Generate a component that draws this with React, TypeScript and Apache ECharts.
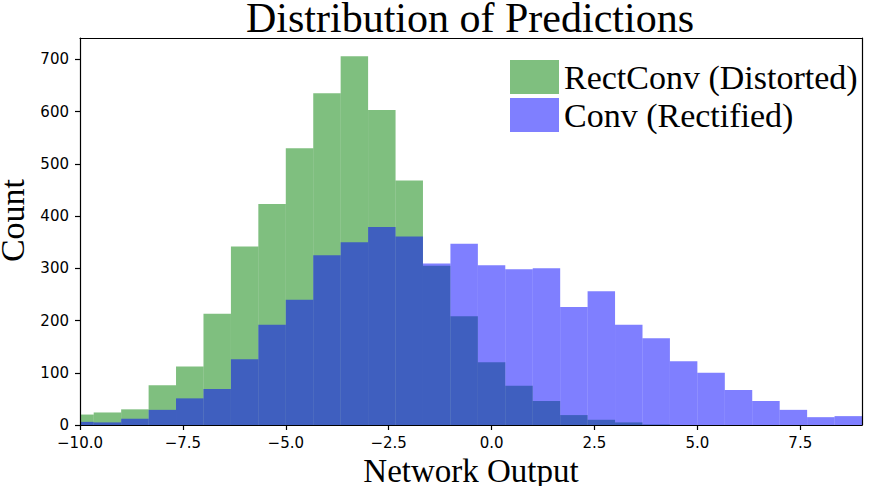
import React, { useEffect, useRef } from "react";
import * as echarts from "echarts";

// Histogram bin edges (shared by both series)
const binEdges = [
  -10.333, -9.667, -9.0, -8.333, -7.667, -7.0, -6.333, -5.667, -5.0, -4.333,
  -3.667, -3.0, -2.333, -1.667, -1.0, -0.333, 0.333, 1.0, 1.667, 2.333,
  3.0, 3.667, 4.333, 5.0, 5.667, 6.333, 7.0, 7.667, 8.333, 9.0,
];

const rectConvCounts = [
  20, 24, 30, 76, 112, 213, 342, 423, 530, 635, 706, 603, 468, 305, 208,
  120, 75, 46, 19, 10, 5, 1, 0, 0, 0, 0, 0, 0, 0,
];

const convCounts = [
  6, 5, 12, 29, 51, 69, 126, 192, 240, 325, 350, 379, 361, 309, 347,
  306, 298, 300, 226, 256, 192, 166, 122, 100, 67, 46, 29, 15, 17,
];

const xTicks = [-10, -7.5, -5, -2.5, 0, 2.5, 5, 7.5];
const yTicks = [0, 100, 200, 300, 400, 500, 600, 700];

const seriesNames = ["RectConv (Distorted)", "Conv (Rectified)"];
const seriesColors = ["rgba(0,128,0,0.5)", "rgba(0,0,255,0.5)"];

function toBins(counts: number[]) {
  return counts.map((c, i) => [binEdges[i], binEdges[i + 1], c]);
}

function makeRenderItem(color: string) {
  return (params: any, api: any) => {
    const x0 = api.value(0);
    const x1 = api.value(1);
    const v = api.value(2);
    const tl = api.coord([x0, v]);
    const br = api.coord([x1, 0]);
    const cs = params.coordSys;
    const left = Math.max(tl[0], cs.x);
    const right = Math.min(br[0], cs.x + cs.width);
    return {
      type: "rect",
      shape: { x: left, y: tl[1], width: Math.max(0, right - left), height: br[1] - tl[1] },
      style: { fill: color },
    };
  };
}

const fmtX = (v: number) => (v < 0 ? "\u2212" : "") + Math.abs(v).toFixed(1);

const tickFont = { fontFamily: "DejaVu Sans", fontSize: 15, color: "#000" };
const serif = "Liberation Serif";

export default function App() {
  const ref = useRef<HTMLDivElement>(null);
  useEffect(() => {
    const chart = echarts.init(ref.current!, null, { renderer: "svg" });
    const option: any = {
      animation: false,
      backgroundColor: "#fff",
      grid: { left: 80, right: 11, top: 38, bottom: 61, outerBoundsMode: "none", containLabel: false },
      graphic: [
        {
          type: "text",
          x: 470,
          y: 1,
          z: 100,
          style: {
            text: "Distribution of Predictions",
            font: `42px "${serif}"`,
            lineHeight: 34,
            fill: "#000",
            textAlign: "center",
            textVerticalAlign: "top",
          },
        },
      ],
      legend: {
        orient: "vertical",
        left: 505,
        top: 55,
        itemWidth: 49,
        itemHeight: 34,
        itemGap: 4,
        icon: "rect",
        data: seriesNames,
        textStyle: { fontFamily: serif, fontSize: 34, lineHeight: 34, color: "#000" },
      },
      xAxis: [
        {
          type: "value",
          min: -10,
          max: 9,
          z: 10,
          name: "Network Output",
          nameLocation: "middle",
          nameGap: 20,
          nameTextStyle: { fontFamily: serif, fontSize: 33, lineHeight: 30, color: "#000" },
          axisLine: { show: true, onZero: false, lineStyle: { color: "#000", width: 1.2 } },
          axisTick: { show: true, length: 5, customValues: xTicks, lineStyle: { color: "#000", width: 1.2 } },
          axisLabel: { ...tickFont, margin: 10, customValues: xTicks, formatter: fmtX },
          splitLine: { show: false },
        },
        {
          type: "value",
          position: "top",
          min: -10,
          max: 9,
          z: 10,
          axisLine: { show: true, onZero: false, lineStyle: { color: "#000", width: 1.2 } },
          axisTick: { show: false },
          axisLabel: { show: false },
          splitLine: { show: false },
        },
      ],
      yAxis: [
        {
          type: "value",
          min: 0,
          max: 741,
          z: 10,
          name: "Count",
          nameLocation: "middle",
          nameGap: 49,
          nameTextStyle: { fontFamily: serif, fontSize: 34, lineHeight: 29, color: "#000", padding: [0, 0, 0, 22] },
          axisLine: { show: true, onZero: false, lineStyle: { color: "#000", width: 1.2 } },
          axisTick: { show: true, length: 5, customValues: yTicks, lineStyle: { color: "#000", width: 1.2 } },
          axisLabel: { ...tickFont, margin: 11, customValues: yTicks },
          splitLine: { show: false },
        },
        {
          type: "value",
          position: "right",
          min: 0,
          max: 741,
          z: 10,
          axisLine: { show: true, onZero: false, lineStyle: { color: "#000", width: 1.2 } },
          axisTick: { show: false },
          axisLabel: { show: false },
          splitLine: { show: false },
        },
      ],
      series: [
        {
          name: seriesNames[0],
          type: "custom",
          xAxisIndex: 0,
          yAxisIndex: 0,
          z: 2,
          itemStyle: { color: seriesColors[0] },
          encode: { x: [0, 1], y: 2 },
          renderItem: makeRenderItem(seriesColors[0]),
          data: toBins(rectConvCounts),
        },
        {
          name: seriesNames[1],
          type: "custom",
          xAxisIndex: 0,
          yAxisIndex: 0,
          z: 3,
          itemStyle: { color: seriesColors[1] },
          encode: { x: [0, 1], y: 2 },
          renderItem: makeRenderItem(seriesColors[1]),
          data: toBins(convCounts),
        },
      ],
    };
    chart.setOption(option);
    return () => chart.dispose();
  }, []);
  return (
    <div
      ref={ref}
      style={{ position: "absolute", left: 0, top: 0, width: 873, height: 486 }}
    />
  );
}
